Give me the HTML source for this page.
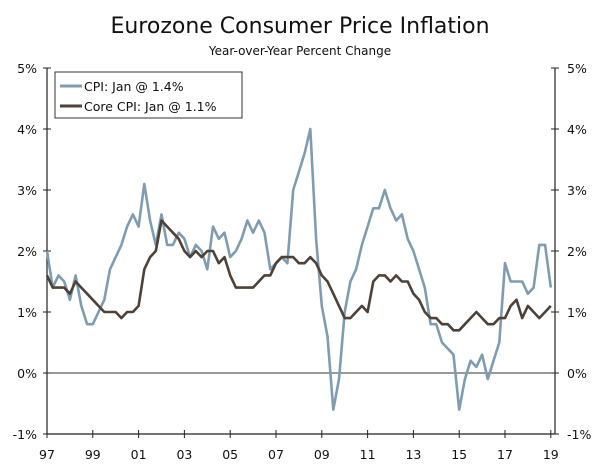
<!DOCTYPE html>
<html><head><meta charset="utf-8"><style>
body{margin:0;background:#fff;}
svg text{font-family:"DejaVu Sans","Liberation Sans",sans-serif;fill:#111;}
</style></head><body>
<svg id="chart" width="600" height="464" xmlns="http://www.w3.org/2000/svg">
<text x="300" y="33" font-size="22" text-anchor="middle">Eurozone Consumer Price Inflation</text>
<text x="300" y="55" font-size="12" text-anchor="middle">Year-over-Year Percent Change</text>
<g id="axes"></g>
<g id="series"></g>
<g>
<rect x="55" y="72" width="187" height="46" fill="#fff" stroke="#333" stroke-width="1"/>
<line x1="60" y1="86" x2="82" y2="86" stroke="#7f9cb0" stroke-width="3"/>
<text x="84" y="91" font-size="12.5">CPI: Jan @ 1.4%</text>
<line x1="60" y1="106" x2="82" y2="106" stroke="#4e4238" stroke-width="3"/>
<text x="84" y="111" font-size="12.5">Core CPI: Jan @ 1.1%</text>
</g>
</svg>
<script>
const yTicks=[5,4,3,2,1,0,-1];
const xTickLabels=["97","99","01","03","05","07","09","11","13","15","17","19"];
const xTickYears=[1997,1999,2001,2003,2005,2007,2009,2011,2013,2015,2017,2019];
const startYear=1997;
// quarterly values Jan 1997 .. Jan 2019
const cpi=[2.0,1.4,1.6,1.5, 1.2,1.6,1.1,0.8, 0.8,1.0,1.2,1.7, 1.9,2.1,2.4,2.6, 2.4,3.1,2.5,2.1, 2.6,2.1,2.1,2.3, 2.2,1.9,2.1,2.0, 1.7,2.4,2.2,2.3, 1.9,2.0,2.2,2.5, 2.3,2.5,2.3,1.7, 1.8,1.9,1.8,3.0, 3.3,3.6,4.0,2.2, 1.1,0.6,-0.6,-0.1, 1.0,1.5,1.7,2.1, 2.4,2.7,2.7,3.0, 2.7,2.5,2.6,2.2, 2.0,1.7,1.4,0.8, 0.8,0.5,0.4,0.3, -0.6,-0.1,0.2,0.1, 0.3,-0.1,0.2,0.5, 1.8,1.5,1.5,1.5, 1.3,1.4,2.1,2.1, 1.4];
const core=[1.6,1.4,1.4,1.4, 1.3,1.5,1.4,1.3, 1.2,1.1,1.0,1.0, 1.0,0.9,1.0,1.0, 1.1,1.7,1.9,2.0, 2.5,2.4,2.3,2.2, 2.0,1.9,2.0,1.9, 2.0,2.0,1.8,1.9, 1.6,1.4,1.4,1.4, 1.4,1.5,1.6,1.6, 1.8,1.9,1.9,1.9, 1.8,1.8,1.9,1.8, 1.6,1.5,1.3,1.1, 0.9,0.9,1.0,1.1, 1.0,1.5,1.6,1.6, 1.5,1.6,1.5,1.5, 1.3,1.2,1.0,0.9, 0.9,0.8,0.8,0.7, 0.7,0.8,0.9,1.0, 0.9,0.8,0.8,0.9, 0.9,1.1,1.2,0.9, 1.1,1.0,0.9,1.0, 1.1];
const X0=47,X1=555,YT=68,YB=434;
function xs(yr){return X0+(yr-1997)*22.9;}
function ys(v){return YB-(v+1)*(YB-YT)/6;}
const NS="http://www.w3.org/2000/svg";
function mk(tag,attrs,parent){const e=document.createElementNS(NS,tag);for(const k in attrs)e.setAttribute(k,attrs[k]);parent.appendChild(e);return e;}
const ax=document.getElementById('axes');
let e=mk('line',{x1:X0,y1:YT,x2:X0,y2:YB,stroke:'#222','stroke-width':1.2},ax);


e=mk('line',{x1:X1,y1:YT,x2:X1,y2:YB,stroke:'#222','stroke-width':1.2},ax);


e=mk('line',{x1:X0,y1:YB,x2:X1,y2:YB,stroke:'#222','stroke-width':1.2},ax);


e=mk('line',{x1:X0,y1:ys(0),x2:X1,y2:ys(0),stroke:'#333','stroke-width':1},ax);


yTicks.forEach(v=>{const y=ys(v);
mk('line',{x1:X0-4,y1:y,x2:X0+4,y2:y,stroke:'#222'},ax);
mk('line',{x1:X1-4,y1:y,x2:X1+4,y2:y,stroke:'#222'},ax);
let t=mk('text',{x:X0-10,y:y+5,'font-size':12.5,'text-anchor':'end'},ax);t.textContent=v+'%';


t=mk('text',{x:X1+12,y:y+5,'font-size':12.5,'text-anchor':'start'},ax);t.textContent=v+'%';


});
xTickYears.forEach((yr,i)=>{const x=xs(yr);
mk('line',{x1:x,y1:YB-4,x2:x,y2:YB+4,stroke:'#222'},ax);
const t=mk('text',{x:x,y:YB+25,'font-size':12.5,'text-anchor':'middle'},ax);t.textContent=xTickLabels[i];


});
const sg=document.getElementById('series');
function line(data,color,name){const d=data.map((v,i)=>(i?'L':'M')+xs(startYear+i/4).toFixed(1)+','+ys(v).toFixed(1)).join(' ');
const p=mk('path',{d:d,fill:'none',stroke:color,'stroke-width':2.6,'stroke-linejoin':'round'},sg);

}
line(cpi,'#7f9cb0','cpi-line');
line(core,'#4e4238','core-cpi-line');
</script>
</body></html>
